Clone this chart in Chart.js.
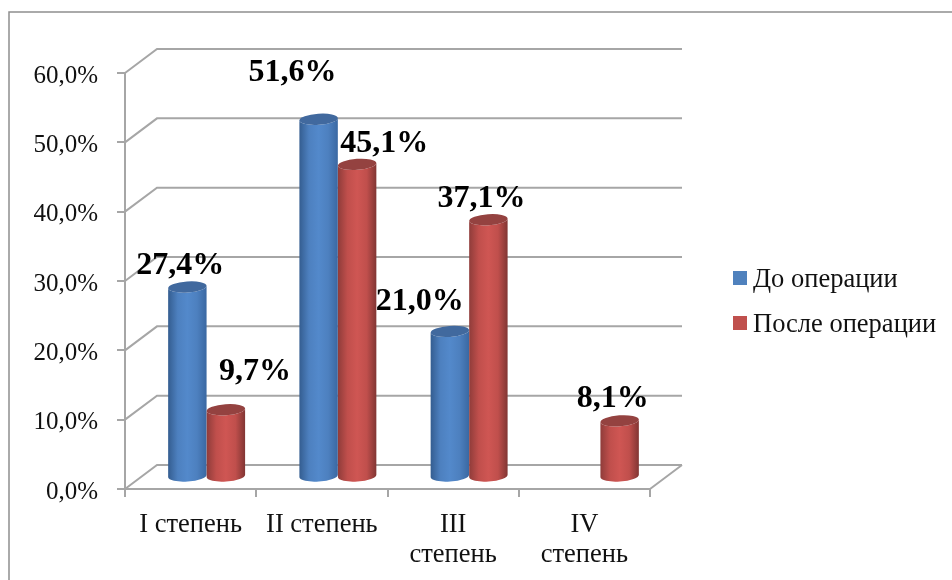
<!DOCTYPE html>
<html lang="ru">
<head>
<meta charset="utf-8">
<title>Степень</title>
<script src="https://cdn.jsdelivr.net/npm/chart.js@4/dist/chart.umd.min.js"></script>
<style>
  body { margin: 0; background: #fff; }
  canvas { display: block; }
</style>
</head>
<body>
<canvas id="gradeChart" width="952" height="580"></canvas>
<script>
// Chart data
const categories = [
  "I степень",
  "II степень",
  ["III", "степень"],
  ["IV", "степень"],
];
const beforeSurgery = [27.4, 51.6, 21.0, null];
const afterSurgery = [9.7, 45.1, 37.1, 8.1];

// Value labels sit by hand around the cylinders: [dx, dy] from the cylinder top
const beforeLabelShift = [[-7, -13], [-26, -38], [-30, -21]];
const afterLabelShift = [[29, -30], [27, -12], [-7, -13], [-7, -14]];

const FONT = '"Liberation Serif", "Times New Roman", serif';
const GRID_COLOR = "#a6a6a6";
const FRAME_COLOR = "#8f8f8f";
const DEPTH_X = 32; // back wall offset
const DEPTH_Y = -24;

// Value text as it reads on the axis and on the labels: 27,4%
const formatPercent = (value) => value.toFixed(1).replace(".", ",") + "%";

// Outer frame, only the top and left edges fall inside the canvas
const drawFrame = (chart) => {
  const { ctx, width, height } = chart;
  ctx.save();
  ctx.strokeStyle = FRAME_COLOR;
  ctx.lineWidth = 1.5;
  ctx.beginPath();
  ctx.moveTo(9, height);
  ctx.lineTo(9, 12);
  ctx.lineTo(width, 12);
  ctx.stroke();
  ctx.restore();
};

// Back wall lines, the side wall diagonals and the floor
const drawWalls = (chart) => {
  const { ctx, chartArea, scales } = chart;
  const { left, right, bottom } = chartArea;
  ctx.save();
  ctx.strokeStyle = GRID_COLOR;
  ctx.lineWidth = 2;
  ctx.beginPath();
  scales.y.ticks.forEach((tick) => {
    const y = scales.y.getPixelForValue(tick.value);
    ctx.moveTo(left, y);
    ctx.lineTo(left + DEPTH_X, y + DEPTH_Y);
    ctx.lineTo(right + DEPTH_X, y + DEPTH_Y);
  });
  ctx.moveTo(right, bottom);
  ctx.lineTo(right + DEPTH_X, bottom + DEPTH_Y);
  ctx.stroke();
  ctx.restore();
};

// One cylinder from a bar element, pushed to the middle of the floor depth
const drawCylinder = (ctx, bar, shades) => {
  const radius = bar.width / 2;
  const cx = bar.x + DEPTH_X / 2;
  const top = bar.y + DEPTH_Y / 2;
  const base = bar.base + DEPTH_Y / 2;
  const radiusY = 5.5;
  const tilt = -0.07;

  const side = ctx.createLinearGradient(cx - radius, 0, cx + radius, 0);
  side.addColorStop(0, shades.edgeLeft);
  side.addColorStop(0.25, shades.mid);
  side.addColorStop(0.5, shades.light);
  side.addColorStop(0.75, shades.mid);
  side.addColorStop(1, shades.edgeRight);

  ctx.fillStyle = side;
  ctx.beginPath();
  ctx.ellipse(cx, base, radius, radiusY, tilt, 0, Math.PI);
  ctx.ellipse(cx, top, radius, radiusY, tilt, Math.PI, 0, true);
  ctx.closePath();
  ctx.fill();

  ctx.fillStyle = shades.cap;
  ctx.beginPath();
  ctx.ellipse(cx, top, radius, radiusY, tilt, 0, Math.PI * 2);
  ctx.fill();
};

const blueShades = {
  edgeLeft: "#345d90",
  mid: "#4d80bf",
  light: "#5389cb",
  edgeRight: "#3a68a2",
  cap: "#41699e",
};
const redShades = {
  edgeLeft: "#8f3c3a",
  mid: "#c04f4c",
  light: "#cf5653",
  edgeRight: "#813533",
  cap: "#944240",
};

const cylinderPlugin = {
  id: "cylinders",
  beforeDraw(chart) {
    drawFrame(chart);
    drawWalls(chart);
  },
  // Draw in dataset order so the red cylinder overlaps the blue one
  beforeDatasetsDraw(chart) {
    const { ctx } = chart;
    const shades = [blueShades, redShades];
    chart.data.datasets.forEach((dataset, i) => {
      chart.getDatasetMeta(i).data.forEach((bar, j) => {
        if (dataset.data[j] !== null) {
          drawCylinder(ctx, bar, shades[i]);
        }
      });
    });
    return false;
  },
  afterDraw(chart) {
    const { ctx } = chart;
    const shifts = [beforeLabelShift, afterLabelShift];
    ctx.save();
    ctx.fillStyle = "#000";
    ctx.font = `bold 32px ${FONT}`;
    ctx.textAlign = "center";
    ctx.textBaseline = "alphabetic";
    chart.data.datasets.forEach((dataset, i) => {
      chart.getDatasetMeta(i).data.forEach((bar, j) => {
        if (dataset.data[j] === null) return;
        const [dx, dy] = shifts[i][j];
        ctx.fillText(
          formatPercent(dataset.data[j]),
          bar.x + DEPTH_X / 2 + dx,
          bar.y + DEPTH_Y / 2 + dy
        );
      });
    });

    // Legend to the right of the plot
    ctx.font = `26.5px ${FONT}`;
    ctx.textAlign = "left";
    ctx.textBaseline = "middle";
    chart.data.datasets.forEach((dataset, i) => {
      const y = 278 + i * 45;
      ctx.fillStyle = dataset.backgroundColor;
      ctx.fillRect(733, y - 7, 14, 14);
      ctx.fillStyle = "#111";
      ctx.fillText(dataset.label, 753, y + 2);
    });
    ctx.restore();
  },
};

new Chart(document.getElementById("gradeChart"), {
  type: "bar",
  data: {
    labels: categories,
    datasets: [
      { label: "До операции", data: beforeSurgery, backgroundColor: "#4f81bd" },
      { label: "После операции", data: afterSurgery, backgroundColor: "#c0504d" },
    ],
  },
  options: {
    responsive: false,
    animation: false,
    categoryPercentage: 0.587,
    barPercentage: 1,
    layout: { padding: { top: 73, right: 302 } },
    plugins: {
      legend: { display: false },
      tooltip: { enabled: false },
    },
    scales: {
      x: {
        afterFit(scale) {
          scale.height = 91;
        },
        border: { color: GRID_COLOR, width: 2 },
        grid: { drawOnChartArea: false, color: GRID_COLOR, lineWidth: 2, tickLength: 8 },
        ticks: {
          color: "#111",
          font: { family: FONT, size: 26.5, lineHeight: 1.13 },
          padding: 13,
          maxRotation: 0,
        },
      },
      y: {
        min: 0,
        max: 60,
        afterFit(scale) {
          scale.width = 125;
        },
        border: { color: GRID_COLOR, width: 2 },
        grid: { drawOnChartArea: false, color: GRID_COLOR, lineWidth: 2, tickLength: 8 },
        ticks: {
          stepSize: 10,
          color: "#111",
          font: { family: FONT, size: 25 },
          padding: 19,
          labelOffset: 3,
          callback: (value) => formatPercent(value),
        },
      },
    },
  },
  plugins: [cylinderPlugin],
});
</script>
</body>
</html>
